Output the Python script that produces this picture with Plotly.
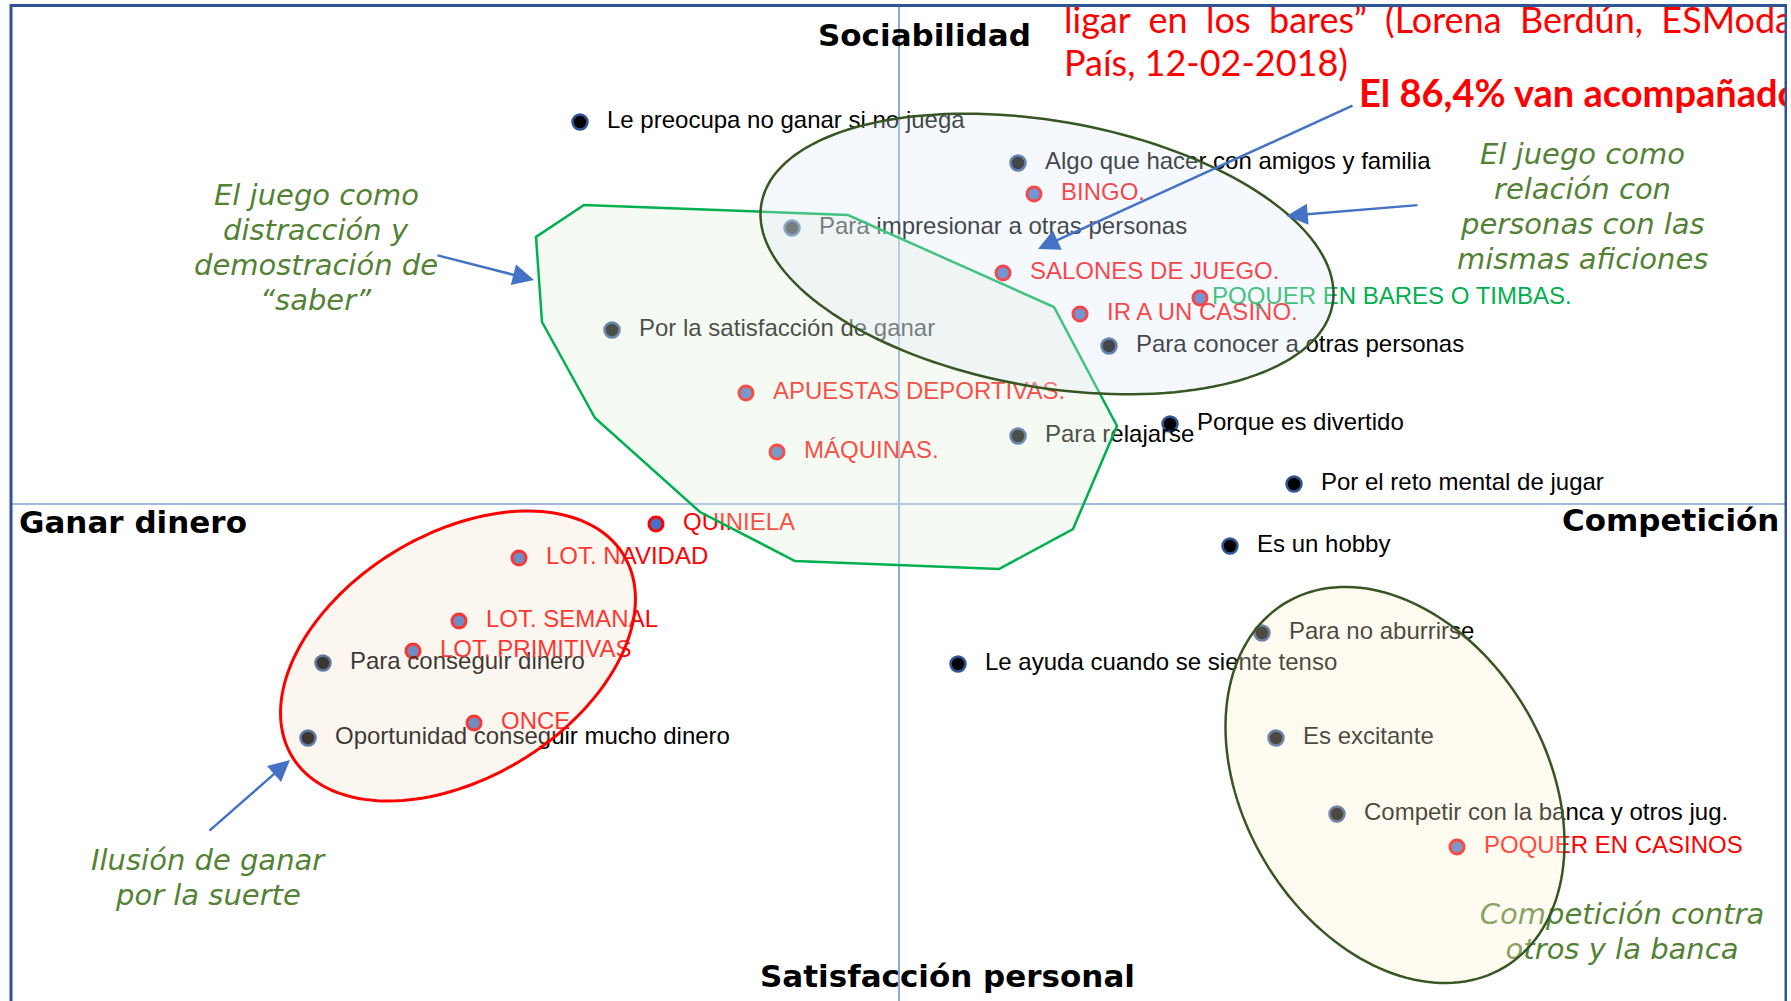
import numpy as np
import plotly.graph_objects as go

# ---------------- data (map coordinates) ----------------
# x: Ganar dinero (-)  <->  Competición (+)
# y: Satisfacción personal (-)  <->  Sociabilidad (+)
motive_labels = [
    "Le preocupa no ganar si no juega",
    "Algo que hacer con amigos y familia",
    "Para impresionar a otras personas",
    "Por la satisfacción de ganar",
    "Para conocer a otras personas",
    "Para relajarse",
    "Porque es divertido",
    "Por el reto mental de jugar",
    "Es un hobby",
    "Para no aburrirse",
    "Le ayuda cuando se siente tenso",
    "Es excitante",
    "Competir con la banca y otros jug.",
    "Para conseguir dinero",
    "Oportunidad conseguir mucho dinero",
]
motive_x = [-3.19, 1.19, -1.07, -2.87, 2.10, 1.19, 2.71, 3.95, 3.31, 3.63, 0.59, 3.77, 4.38, -5.76, -5.91]
motive_y = [3.82, 3.41, 2.76, 1.74, 1.58, 0.68, 0.80, 0.20, -0.42, -1.29, -1.60, -2.34, -3.10, -1.59, -2.34]

game_labels = [
    "BINGO.",
    "SALONES DE JUEGO.",
    "IR A UN CASINO.",
    "POQUER EN BARES O TIMBAS.",
    "APUESTAS DEPORTIVAS.",
    "MÁQUINAS.",
    "QUINIELA",
    "LOT. NAVIDAD",
    "LOT. SEMANAL",
    "LOT. PRIMITIVAS",
    "ONCE",
    "POQUER EN CASINOS",
]
game_x = [1.35, 1.04, 1.81, 3.01, -1.53, -1.22, -2.43, -3.80, -4.40, -4.86, -4.25, 5.58]
game_y = [3.10, 2.31, 1.90, 2.06, 1.11, 0.52, -0.20, -0.54, -1.17, -1.47, -2.19, -3.43]

# group regions
poly_x = [-3.15, -0.51, 1.55, 2.18, 1.74, 1.00, -1.04, -1.99, -3.04, -3.57, -3.63]
poly_y = [2.99, 2.89, 1.97, 0.78, -0.25, -0.65, -0.57, -0.08, 0.86, 1.82, 2.67]

ell_names = ["social", "suerte", "competicion"]
ell_cx = [1.48, -4.41, 4.96]
ell_cy = [2.50, -1.52, -2.81]
ell_a = [2.90, 1.94, 2.125]
ell_b = [1.33, 1.22, 1.51]
ell_ang = [-10.0, 31.3, -59.0]

# ---------------- styling ----------------
LABEL_DX = 0.27
LINE_STEP = 0.35
fig = go.Figure()

def ellipse_path(cx, cy, a, b, ang, n=160):
    t = np.linspace(0, 2 * np.pi, n)
    p = np.deg2rad(ang)
    xs = cx + a * np.cos(t) * np.cos(p) - b * np.sin(t) * np.sin(p)
    ys = cy + a * np.cos(t) * np.sin(p) + b * np.sin(t) * np.cos(p)
    return "M " + " L ".join(f"{x:.4f},{y:.4f}" for x, y in zip(xs, ys)) + " Z"

def poly_path(xs, ys):
    return "M " + " L ".join(f"{x},{y}" for x, y in zip(xs, ys)) + " Z"

def line_ys(yc, n):
    return [yc + (n - 1) / 2 * LINE_STEP - i * LINE_STEP for i in range(n)]

# markers
fig.add_trace(go.Scatter(x=motive_x, y=motive_y, mode="markers",
                         marker=dict(size=15, color="#000000", line=dict(color="#2f5597", width=2.5)),
                         hoverinfo="skip"))
fig.add_trace(go.Scatter(x=game_x, y=game_y, mode="markers",
                         marker=dict(size=14, color="#4472c4", line=dict(color="#ff0000", width=3)),
                         hoverinfo="skip"))
# labels
fig.add_trace(go.Scatter(x=[v + LABEL_DX for v in motive_x], y=motive_y, mode="text",
                         text=motive_labels, textposition="middle right",
                         textfont=dict(family="Liberation Sans, Arial", size=24, color="#000000"),
                         hoverinfo="skip"))
game_dx = [0.12 if s.startswith("POQUER EN BARES") else LABEL_DX for s in game_labels]
game_col = ["#00b050" if s.startswith("POQUER EN BARES") else "#ff0000" for s in game_labels]
fig.add_trace(go.Scatter(x=[v + d for v, d in zip(game_x, game_dx)], y=game_y, mode="text",
                         text=game_labels, textposition="middle right",
                         textfont=dict(family="Liberation Sans, Arial", size=24, color=game_col),
                         hoverinfo="skip"))

# red quote texts (clipped at the frame)
fig.add_trace(go.Scatter(
    x=[1.65, 1.65], y=[4.80, 4.37], mode="text",
    text=["ligar\u00a0\u00a0en\u00a0\u00a0los\u00a0\u00a0bares”\u00a0\u00a0(Lorena\u00a0\u00a0Berdún,\u00a0\u00a0ESModa",
          "País, 12-02-2018)"],
    textposition="middle right", cliponaxis=True,
    textfont=dict(family="Lato, Carlito, sans-serif", size=36, color="#ff0000"), hoverinfo="skip"))
fig.add_trace(go.Scatter(
    x=[4.60], y=[4.07], mode="text", text=["<b>El 86,4% van acompañados</b>"],
    textposition="middle right", cliponaxis=True,
    textfont=dict(family="Lato, Carlito, sans-serif", size=38, color="#ff0000"), hoverinfo="skip"))
# group caption under the ellipse border
comp_lines = ["Competición contra", "otros y la banca"]
fig.add_trace(go.Scatter(
    x=[7.23] * 2, y=line_ys(-4.30, 2), mode="text", text=[f"<i>{s}</i>" for s in comp_lines],
    textposition="middle center", cliponaxis=False,
    textfont=dict(family="DejaVu Sans", size=29, color="#548235"), hoverinfo="skip"))

shapes = []
# central axes
shapes.append(dict(type="line", xref="x", yref="y", x0=-8.88, x1=8.87, y0=0, y1=0,
                   line=dict(color="#4472c4", width=1), layer="below"))
shapes.append(dict(type="line", xref="x", yref="y", x0=0, x1=0, y0=-5.2, y1=4.985,
                   line=dict(color="#8eaadb", width=2), layer="below"))
# regions
shapes.append(dict(type="path", xref="x", yref="y", path=poly_path(poly_x, poly_y),
                   fillcolor="rgba(226,239,218,0.33)", line=dict(color="#00b050", width=2.5), layer="above"))
ell_fill = ["rgba(222,235,247,0.3)", "rgba(242,220,200,0.25)", "rgba(255,242,204,0.3)"]
ell_line = ["#375623", "#ff0000", "#375623"]
ell_w = [2.5, 3, 2.5]
for i in range(len(ell_names)):
    shapes.append(dict(type="path", xref="x", yref="y",
                       path=ellipse_path(ell_cx[i], ell_cy[i], ell_a[i], ell_b[i], ell_ang[i]),
                       fillcolor=ell_fill[i], line=dict(color=ell_line[i], width=ell_w[i]), layer="above"))
# frame
shapes.append(dict(type="rect", xref="x", yref="y", x0=-8.88, x1=8.87, y0=-5.3, y1=4.985,
                   line=dict(color="#2f5597", width=3), fillcolor="rgba(0,0,0,0)", layer="above"))

ann = []
arrows = [  # (tail x, tail y, head x, head y)
    (-4.63, 2.49, -3.65, 2.24),
    (4.55, 3.99, 1.39, 2.55),
    (5.20, 2.99, 3.875, 2.88),
    (-6.91, -3.28, -6.09, -2.56),
]
for tx, ty, hx, hy in arrows:
    ann.append(dict(x=hx, y=hy, ax=tx, ay=ty, xref="x", yref="y", axref="x", ayref="y",
                    text="", showarrow=True, arrowhead=2, arrowsize=1.7, arrowwidth=2.5,
                    arrowcolor="#4472c4", standoff=0, startstandoff=0))

green = dict(family="DejaVu Sans", size=29, color="#548235")
captions = [
    (-5.83, 2.565, ["El juego como", "distracción y", "demostración de", "“saber”"]),
    (6.83, 2.98, ["El juego como", "relación con", "personas con las", "mismas aficiones"]),
    (-6.91, -3.735, ["Ilusión de ganar", "por la suerte"]),
]
for cx, cy, lines in captions:
    for s, yy in zip(lines, line_ys(cy, len(lines))):
        ann.append(dict(x=cx, y=yy, xref="x", yref="y", showarrow=False, text=f"<i>{s}</i>", font=green))

axf = dict(family="DejaVu Sans", size=31, color="#000000")
ann.append(dict(x=0.25, y=4.69, xref="x", yref="y", showarrow=False, text="<b>Sociabilidad</b>", font=axf))
ann.append(dict(x=-8.82, y=-0.18, xref="x", yref="y", showarrow=False, xanchor="left",
                text="<b>Ganar dinero</b>", font=axf))
ann.append(dict(x=8.82, y=-0.16, xref="x", yref="y", showarrow=False, xanchor="right",
                text="<b>Competición</b>", font=axf))
ann.append(dict(x=0.48, y=-4.72, xref="x", yref="y", showarrow=False,
                text="<b>Satisfacción personal</b>", font=axf))

fig.update_layout(
    width=1791, height=1001, margin=dict(l=0, r=4, t=0, b=0),
    paper_bgcolor="white", plot_bgcolor="white", showlegend=False,
    xaxis=dict(range=[-8.99, 8.88], visible=False, fixedrange=True),
    yaxis=dict(range=[-4.97, 5.04], visible=False, fixedrange=True),
    shapes=shapes, annotations=ann,
)
fig.write_html("out.html", config={"displayModeBar": False},
               post_script="document.body.style.margin='0px';")
